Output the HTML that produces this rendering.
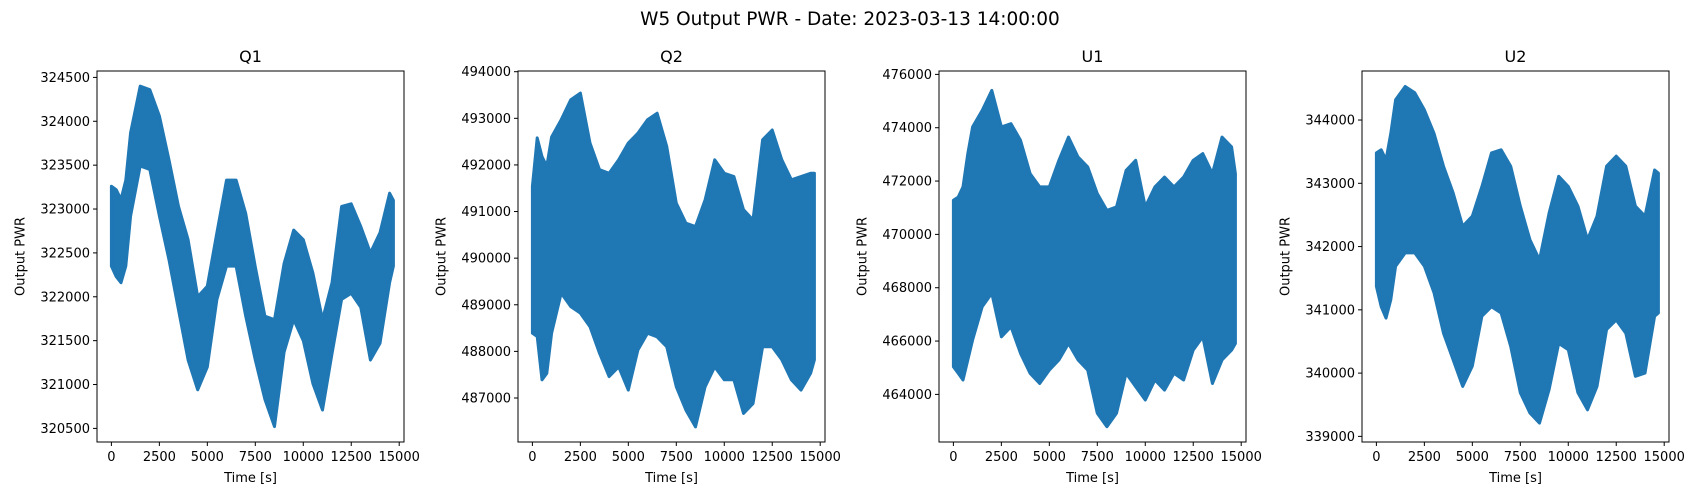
<!DOCTYPE html>
<html><head><meta charset="utf-8"><style>
body{margin:0;background:#fff;}
svg{display:block;font-family:"DejaVu Sans","Liberation Sans",sans-serif;}
</style></head><body>
<svg id="fig" width="1700" height="500" viewBox="0 0 1700 500">
<rect width="1700" height="500" fill="#fff"/>
<text x="850" y="25" text-anchor="middle" font-size="18.5" fill="#000">W5 Output PWR - Date: 2023-03-13 14:00:00</text>
</svg>
<script>
const times=[0,250,500,750,1000,1500,2000,2500,3000,3500,4000,4500,5000,5500,6000,6500,7000,7500,8000,8500,9000,9500,10000,10500,11000,11500,12000,12500,13000,13500,14000,14500,14700];
const xTicks=[0,2500,5000,7500,10000,12500,15000];
const q1Upper=[323260,323220,323110,323330,323870,324400,324360,324060,323560,323030,322650,322000,322120,322730,323330,323330,322950,322340,321780,321740,322380,322760,322650,322270,321740,322160,323030,323060,322800,322500,322730,323180,323100];
const q1Lower=[322350,322230,322160,322350,322920,323490,323450,322920,322420,321850,321280,320940,321200,321970,322350,322350,321780,321280,320830,320520,321370,321740,321500,321010,320710,321350,321970,322040,321880,321280,321470,322160,322350];
const q2Upper=[491540,492580,492180,491970,492600,492970,493400,493540,492470,491900,491820,492110,492470,492680,492970,493110,492400,491180,490750,490680,491250,492110,491820,491750,491040,490820,492540,492750,492110,491680,491750,491820,491820];
const q2Lower=[488390,488320,487390,487530,488390,489250,488960,488820,488530,487960,487460,487670,487170,488030,488390,488310,488100,487240,486740,486380,487240,487670,487390,487390,486670,486880,488100,488100,487820,487390,487170,487530,487820];
const u1Upper=[471280,471400,471780,473030,474030,474650,475400,474030,474150,473530,472280,471780,471780,472780,473650,472900,472530,471530,470900,471030,472400,472780,471030,471780,472150,471780,472150,472780,473030,472280,473650,473280,472280];
const u1Lower=[465040,464790,464540,465290,466040,467290,467790,466160,466540,465540,464790,464410,464910,465290,465910,465290,464910,463290,462790,463290,464790,464290,463790,464540,464160,464790,464540,465660,466160,464410,465290,465660,465910];
const u2Upper=[343480,343530,343370,343790,344320,344530,344430,344160,343790,343270,342850,342320,342480,342950,343480,343530,343270,342640,342110,341790,342530,343110,342950,342640,342110,342480,343270,343430,343270,342640,342480,343210,343160];
const u2Lower=[341370,341050,340870,341160,341690,341900,341900,341690,341270,340630,340210,339790,340110,340900,341050,340950,340420,339690,339370,339210,339740,340470,340370,339690,339420,339790,340690,340840,340630,339950,340000,340900,340950];
const q1Ticks=[320500,321000,321500,322000,322500,323000,323500,324000,324500];
const q2Ticks=[487000,488000,489000,490000,491000,492000,493000,494000];
const u1Ticks=[464000,466000,468000,470000,472000,474000,476000];
const u2Ticks=[339000,340000,341000,342000,343000,344000];

const NS="http://www.w3.org/2000/svg";
const svg=document.getElementById('fig');
function mk(tag,attrs,parent){const e=document.createElementNS(NS,tag);for(const k in attrs)e.setAttribute(k,attrs[k]);(parent||svg).appendChild(e);return e;}

const panels=[
 {name:'q1',title:'Q1',left:97,ymin:320345,ymax:324573,up:q1Upper,lo:q1Lower,ticks:q1Ticks},
 {name:'q2',title:'Q2',left:518,ymin:486056,ymax:494015,up:q2Upper,lo:q2Lower,ticks:q2Ticks},
 {name:'u1',title:'U1',left:939,ymin:462215,ymax:476127,up:u1Upper,lo:u1Lower,ticks:u1Ticks},
 {name:'u2',title:'U2',left:1362,ymin:338911,ymax:344775,up:u2Upper,lo:u2Lower,ticks:u2Ticks}
];
const axTop=71,axBottom=442,W=307,xmin=-750,xmax=15250;

panels.forEach(p=>{
 const xs=v=>p.left+(v-xmin)/(xmax-xmin)*W;
 const ys=v=>axBottom-(v-p.ymin)/(p.ymax-p.ymin)*(axBottom-axTop);
 const g=mk('g',{});
 
 
 let pts=[];
 times.forEach((t,i)=>pts.push(xs(t).toFixed(1)+','+ys(p.up[i]).toFixed(1)));
 for(let i=times.length-1;i>=0;i--)pts.push(xs(times[i]).toFixed(1)+','+ys(p.lo[i]).toFixed(1));
 const poly=mk('polygon',{points:pts.join(' '),fill:'#1f77b4',stroke:'#1f77b4','stroke-width':'3','stroke-linejoin':'round'},g);
 
 
 const fr=mk('rect',{x:p.left,y:axTop,width:W,height:axBottom-axTop,fill:'none',stroke:'#000','stroke-width':'1'},g);
 
 
 const tt=mk('text',{x:p.left+W/2,y:62,'text-anchor':'middle','font-size':'16',fill:'#000'},g);
 tt.textContent=p.title;
 
 
 xTicks.forEach(v=>{
  const x=xs(v);
  mk('line',{x1:x,x2:x,y1:axBottom,y2:axBottom+4,stroke:'#000','stroke-width':'1'},g);
  const t=mk('text',{x:x,y:axBottom+19,'text-anchor':'middle','font-size':'13',fill:'#000'},g);
  t.textContent=v;
  
  
 });
 const xl=mk('text',{x:p.left+W/2,y:482,'text-anchor':'middle','font-size':'13',fill:'#000'},g);
 xl.textContent='Time [s]';
 
 
 p.ticks.forEach(v=>{
  const y=ys(v);
  mk('line',{x1:p.left-4,x2:p.left,y1:y,y2:y,stroke:'#000','stroke-width':'1'},g);
  const t=mk('text',{x:p.left-7,y:y+4.5,'text-anchor':'end','font-size':'13',fill:'#000'},g);
  t.textContent=v;
  
  
 });
 const cx=p.left-76,cy=(axTop+axBottom)/2;
 const yl=mk('text',{x:cx,y:cy,'text-anchor':'middle','font-size':'13',fill:'#000',transform:'rotate(-90 '+cx+' '+cy+')','dominant-baseline':'middle'},g);
 yl.textContent='Output PWR';
 
 
});
</script>
</body></html>
